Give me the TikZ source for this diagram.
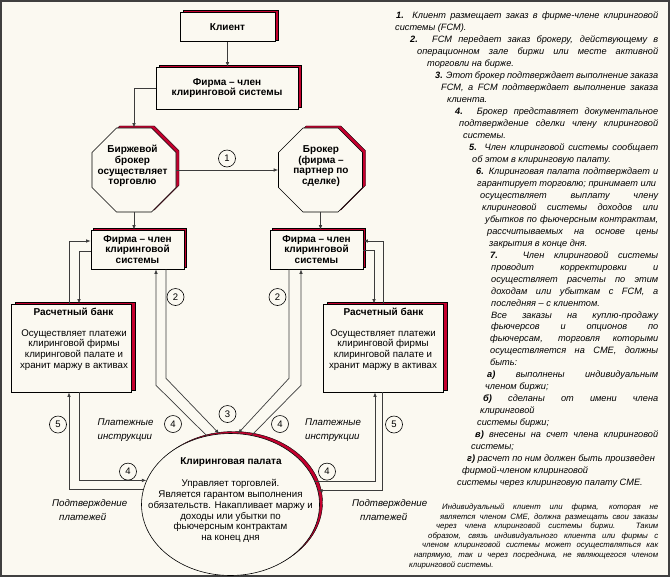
\documentclass[tikz,border=0pt]{standalone}
\usepackage{fontspec}
\setmainfont{Liberation Sans}
\usepackage{tikz}
\usetikzlibrary{arrows.meta, positioning, calc, shapes.geometric, shadows}
\definecolor{paper}{RGB}{251,249,241}
\definecolor{shadowred}{RGB}{196,0,46}
\definecolor{wire}{RGB}{60,60,60}
\newcommand{\jl}[2]{\makebox[#1][s]{#2}}

\begin{document}
\begin{tikzpicture}[x=1pt, y=-1pt,
  >={Latex[length=4.5pt,width=3.5pt]},
  redshadow/.style={drop shadow={shadow xshift=#1, shadow yshift=2pt, fill=shadowred, draw=black, line width=0.4pt, opacity=1}},
  redshadow/.default=3pt,
  box/.style={rectangle, draw=black, fill=paper, line width=0.6pt, inner sep=0pt, align=center, font=\fontsize{10}{10.8}\selectfont\bfseries},
  octa/.style={regular polygon, regular polygon sides=8, minimum size=91pt, draw=black, fill=paper, line width=0.6pt, inner sep=0pt},
  numc/.style={circle, draw=black, fill=paper, line width=0.6pt, minimum size=17pt, inner sep=0pt, font=\fontsize{9.5}{10}\selectfont},
  link/.style={draw=wire, line width=0.7pt},
  headtext/.style={inner sep=0pt, align=center, font=\fontsize{10}{10.8}\selectfont\bfseries},
  bodytext/.style={inner sep=0pt, align=center, font=\fontsize{9.7}{10.8}\selectfont},
  lbl/.style={inner sep=0pt, align=left, font=\fontsize{9.7}{14}\selectfont\itshape},
  coltext/.style={anchor=base west, inner sep=0pt, font=\fontsize{9.2}{12}\selectfont\itshape},
  notetext/.style={anchor=base west, inner sep=0pt, font=\fontsize{7.8}{9.6}\selectfont\itshape}]
  \useasboundingbox (0,0) rectangle (671,579);
  % sheet and frame
  \fill[white] (0,0) rectangle (671,579);
  \fill[paper] (1,1) rectangle (669,576);
  \draw[black!75, line width=1.2pt] (1,1) rectangle (669,576);

  % Boxes
  \node[box, redshadow, minimum width=95pt, minimum height=29.5pt] (client) at (227.5,27) {Клиент};
  \node[box, redshadow, minimum width=142pt, minimum height=42pt] (fcmtop) at (227,88) {Фирма – член\\клиринговой системы};
  \node[octa, redshadow] (octL) at (134,170) {};
  \node[octa, redshadow] (octR) at (320.5,170) {};
  \node[box, redshadow=2.5pt, minimum width=93pt, minimum height=39pt] (fcmL) at (137.5,249.5) {Фирма – член\\клиринговой\\системы};
  \node[box, redshadow=2.5pt, minimum width=93pt, minimum height=39pt] (fcmR) at (316.5,249.5) {Фирма – член\\клиринговой\\системы};
  \node[box, redshadow=4.5pt, minimum width=120pt, minimum height=88pt] (bankL) at (71,348) {};
  \node[box, redshadow=4.5pt, minimum width=120pt, minimum height=88pt] (bankR) at (383,348) {};
  \node[ellipse, draw=black, fill=paper, line width=0.6pt, inner sep=0pt, redshadow, minimum width=178pt, minimum height=142pt] (clr) at (230.5,504.5) {};

  % Texts inside the shapes
  \node[headtext] (octLt) at (132.5,166) {Биржевой\\брокер\\осуществляет\\торговлю};
  \node[headtext] (octRt) at (321,166) {Брокер\\(фирма –\\партнер по\\сделке)};
  \node[headtext] (bankLt) at (73.5,312) {Расчетный банк};
  \node[bodytext] (bankLb) at (74,350) {Осуществляет платежи\\клиринговой фирмы\\клиринговой палате и\\хранит маржу в активах};
  \node[headtext] (bankRt) at (383.5,312) {Расчетный банк};
  \node[bodytext] (bankRb) at (383,350) {Осуществляет платежи\\клиринговой фирмы\\клиринговой палате и\\хранит маржу в активах};
  \node[headtext] (clrt) at (231,462) {Клиринговая палата};
  \node[bodytext] (clrb) at (230.5,511) {Управляет торговлей.\\Является гарантом выполнения\\обязательств. Накапливает маржу и\\доходы или убытки по\\фьючерсным контрактам\\на конец дня};

  % Connectors
  \draw[link,->] (client.south) -- (client.south |- fcmtop.north);
  \draw[link,->] (fcmtop.west) -| (octL.north);
  \draw[link,->] (octL.east) -- (octR.west);
  \draw[link,->] (octL.south) -- (octL.south |- fcmL.north);
  \draw[link,->] (octR.south) -- (octR.south |- fcmR.north);
  \draw[link,->] ($(bankL.north)+(-2,0)$) |- ($(fcmL.west)+(0,-8.5)$);
  \draw[link,->] ($(fcmL.west)+(0,1.5)$) -| ($(bankL.north)+(8,0)$);
  \draw[link,->] (bankR.north) |- ($(fcmR.east)+(0,-8.5)$);
  \draw[link,->] ($(fcmR.east)+(0,0.5)$) -| ($(bankR.north)+(-9,0)$);
  \draw[link,->] (clr.109.7) -- ($(fcmL.south)+(18.5,116)$) -- ($(fcmL.south)+(18.5,0)$);
  \draw[link,->] ($(fcmL.south)+(28.5,0)$) -- ($(fcmL.south)+(28.5,109)$) -- (clr.99.3);
  \draw[link,->] ($(fcmR.south)+(-27.5,0)$) -- ($(fcmR.south)+(-27.5,109)$) -- (clr.84.8);
  \draw[link,->] (clr.73.5) -- ($(fcmR.south)+(-15.5,116)$) -- ($(fcmR.south)+(-15.5,0)$);
  \draw[link,->] ($(bankL.south)+(8,0)$) |- (clr.164.7);
  \draw[link,->] (clr.170.5) -| ($(bankL.south)+(-2,0)$);
  \draw[link,->] (clr.15.3) -| ($(bankR.south)+(-8,0)$);
  \draw[link,->] ($(bankR.south)+(-1,0)$) |- (clr.9.5);

  % Step numbers
  \node[numc] (n1) at (227,158.5) {1};
  \node[numc] (n2a) at (175.5,297) {2};
  \node[numc] (n2b) at (277.5,297) {2};
  \node[numc] (n3) at (227.5,414) {3};
  \node[numc] (n4a) at (173,424) {4};
  \node[numc] (n4b) at (280,424) {4};
  \node[numc] (n4c) at (128,471.6) {4};
  \node[numc] (n4d) at (327,471.6) {4};
  \node[numc] (n5a) at (58,424.5) {5};
  \node[numc] (n5b) at (394,424.5) {5};

  % Labels on the flows
  \node[lbl, anchor=west] (payL) at (97.5,430) {Платежные\\инструкции};
  \node[lbl, anchor=west] (payR) at (305,430) {Платежные\\инструкции};
  \node[lbl, anchor=west] (confL) at (52,510) {Подтверждение\\\hspace*{7pt}платежей};
  \node[lbl, anchor=west] (confR) at (352,510) {Подтверждение\\\hspace*{8pt}платежей};

  % Steps text
  \node[coltext] (l1) at (396,18.7) {\jl{262pt}{\textbf{1.} Клиент размещает заказ в фирме-члене клиринговой}};
  \node[coltext] (l2) at (395,30.7) {системы (FCM).};
  \node[coltext] (l3) at (410,42.6) {\jl{248pt}{\textbf{2.} FCM передает заказ брокеру, действующему в}};
  \node[coltext] (l4) at (417,54.6) {\jl{241pt}{операционном зале биржи или месте активной}};
  \node[coltext] (l5) at (427,66.6) {торговли на бирже.};
  \node[coltext] (l6) at (435,78.6) {\jl{223pt}{\textbf{3.} Этот брокер подтверждает выполнение заказа}};
  \node[coltext] (l7) at (441,90.5) {\jl{217pt}{FCM, а FCM подтверждает выполнение заказа}};
  \node[coltext] (l8) at (447,102.5) {клиента.};
  \node[coltext] (l9) at (455,114.5) {\jl{203pt}{\textbf{4.} Брокер представляет документальное}};
  \node[coltext] (l10) at (459,126.4) {\jl{199pt}{подтверждение сделки члену клиринговой}};
  \node[coltext] (l11) at (463,138.4) {системы.};
  \node[coltext] (l12) at (469,150.4) {\jl{189pt}{\textbf{5.} Член клиринговой системы сообщает}};
  \node[coltext] (l13) at (472,162.3) {об этом в клиринговую палату.};
  \node[coltext] (l14) at (476,174.3) {\jl{182pt}{\textbf{6.} Клиринговая палата подтверждает и}};
  \node[coltext] (l15) at (477,186.3) {гарантирует торговлю; принимает или};
  \node[coltext] (l16) at (480,198.3) {\jl{178pt}{осуществляет выплату члену}};
  \node[coltext] (l17) at (482,210.2) {\jl{176pt}{клиринговой системы доходов или}};
  \node[coltext] (l18) at (485,222.2) {\jl{173pt}{убытков по фьючерсным контрактам,}};
  \node[coltext] (l19) at (487,234.2) {\jl{171pt}{рассчитываемых на основе цены}};
  \node[coltext] (l20) at (489,246.1) {закрытия в конце дня.};
  \node[coltext] (l21) at (490,258.1) {\jl{168pt}{\textbf{7.} Член клиринговой системы}};
  \node[coltext] (l22) at (491,270.1) {\jl{167pt}{проводит корректировки и}};
  \node[coltext] (l23) at (491,282.0) {\jl{167pt}{осуществляет расчеты по этим}};
  \node[coltext] (l24) at (491,294.0) {\jl{167pt}{доходам или убыткам с FCM, а}};
  \node[coltext] (l25) at (491,306.0) {последняя – с клиентом.};
  \node[coltext] (l26) at (491,318.0) {\jl{167pt}{Все заказы на куплю-продажу}};
  \node[coltext] (l27) at (491,329.9) {\jl{167pt}{фьючерсов и опционов по}};
  \node[coltext] (l28) at (490,341.9) {\jl{168pt}{фьючерсам, торговля которыми}};
  \node[coltext] (l29) at (490,353.9) {\jl{168pt}{осуществляется на CME, должны}};
  \node[coltext] (l30) at (490,365.8) {быть:};
  \node[coltext] (l31) at (487,377.8) {\jl{171pt}{\textbf{а)} выполнены индивидуальным}};
  \node[coltext] (l32) at (485,389.8) {членом биржи;};
  \node[coltext] (l33) at (483,401.7) {\jl{175pt}{\textbf{б)} сделаны от имени члена}};
  \node[coltext] (l34) at (480,413.7) {клиринговой};
  \node[coltext] (l35) at (477,425.7) {системы биржи;};
  \node[coltext] (l36) at (475,437.6) {\jl{183pt}{\textbf{в)} внесены на счет члена клиринговой}};
  \node[coltext] (l37) at (471,449.6) {системы;};
  \node[coltext] (l38) at (467,461.6) {\textbf{г)} расчет по ним должен быть произведен};
  \node[coltext] (l39) at (462,473.6) {фирмой-членом клиринговой};
  \node[coltext] (l40) at (457,485.5) {системы через клиринговую палату CME.};

  % Note
  \node[notetext] (m1) at (442,509.5) {\jl{216pt}{Индивидуальный клиент или фирма, которая не}};
  \node[notetext] (m2) at (440,519.1) {\jl{218pt}{является членом CME, должна размещать свои заказы}};
  \node[notetext] (m3) at (436,528.7) {\jl{222pt}{через члена клиринговой системы биржи. Таким}};
  \node[notetext] (m4) at (428,538.3) {\jl{230pt}{образом, связь индивидуального клиента или фирмы с}};
  \node[notetext] (m5) at (422,547.9) {\jl{236pt}{членом клиринговой системы может осуществляться как}};
  \node[notetext] (m6) at (414,557.5) {\jl{244pt}{напрямую, так и через посредника, не являющегося членом}};
  \node[notetext] (m7) at (409,567.1) {клиринговой системы.};
\end{tikzpicture}
\end{document}
